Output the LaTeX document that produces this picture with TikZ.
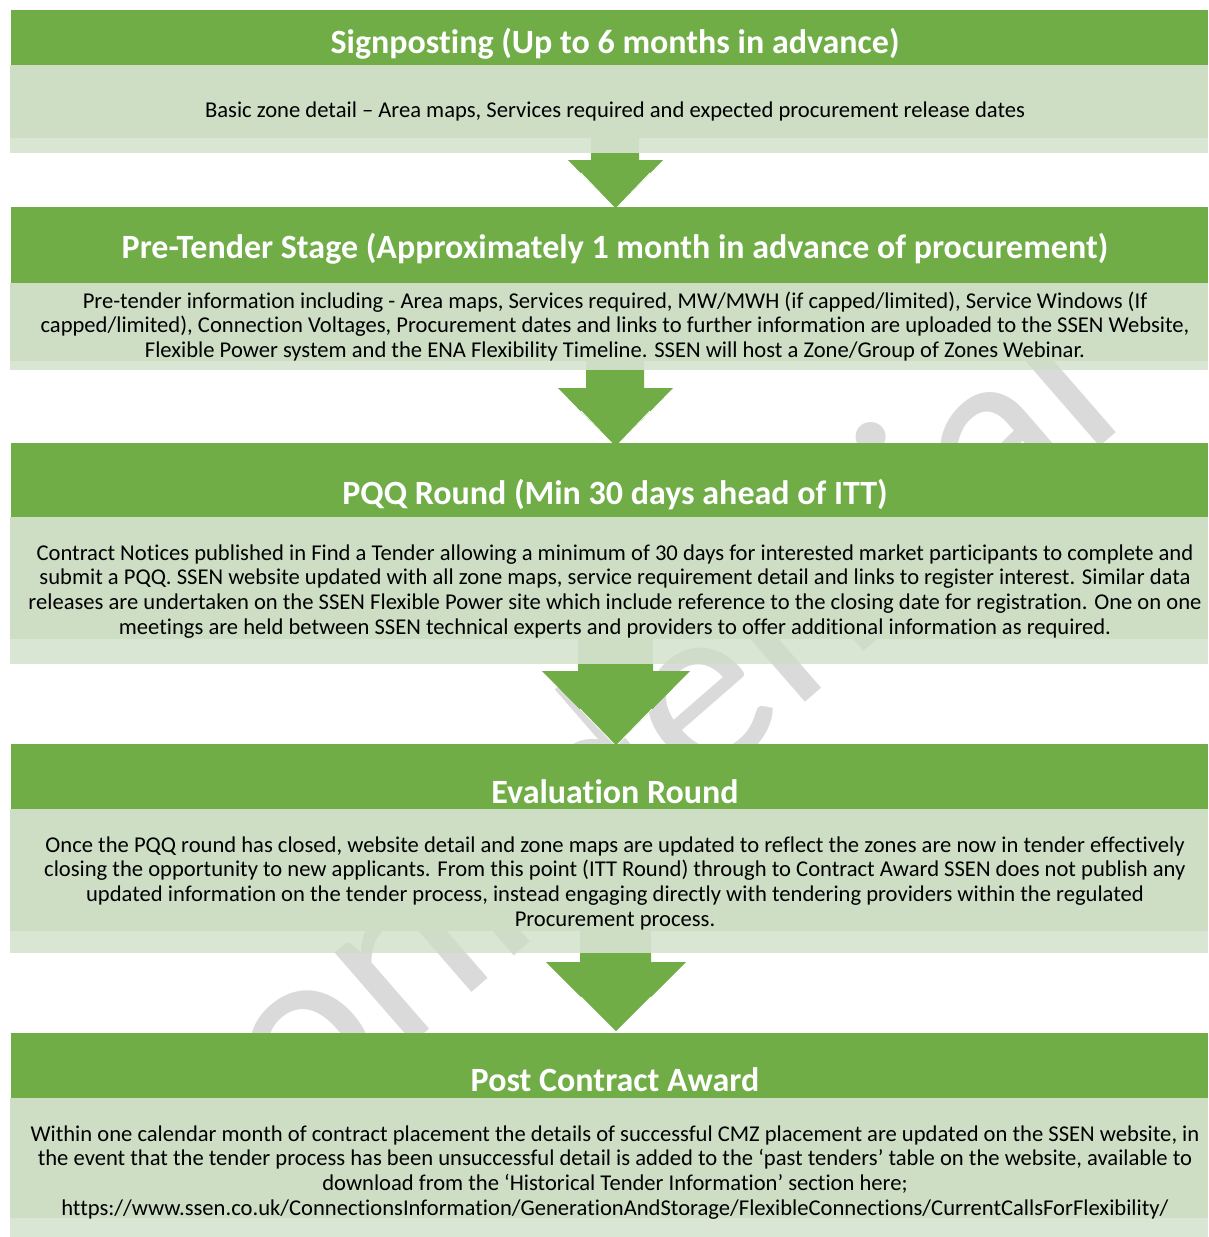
\documentclass[tikz,border=0pt]{standalone}
\usepackage{fontspec}
\setmainfont{Carlito}[Ligatures={NoCommon}]
\definecolor{hdr}{RGB}{112,173,71}
\definecolor{bodyc}{RGB}{205,222,197}
\definecolor{wmgray}{RGB}{218,218,218}
\begin{document}
\begin{tikzpicture}[x=1pt,y=-1pt,
  hdrfill/.style={fill=hdr},
  bodyfill/.style={fill=bodyc},
  stripfill/.style={fill=bodyc,fill opacity=0.75},
  arrowfill/.style={fill=hdr},
  hdrtext/.style={inner sep=0pt,anchor=base,text=white,font=\fontsize{34}{39}\selectfont\bfseries},
  bodytext/.style={inner sep=0pt,anchor=base,text=black,font=\fontsize{22.6}{24.8}\selectfont},
  wmtext/.style={inner sep=0pt,text=wmgray,font=\fontsize{250}{290}\selectfont}
]
\useasboundingbox (0,0) rectangle (1208,1237);
\clip (0,0) rectangle (1208,1237);
\fill[white] (0,0) rectangle (1208,1237);

% watermark
\node[wmtext,rotate=41,anchor=base east] (wm) at (1130,420) {Confidential};

% ---- Stage 1
\fill[hdrfill] (11,10) rectangle (1208,65);
\fill[bodyfill] (10,65) rectangle (1208,138);
\fill[stripfill] (10,138) rectangle (1208,153);
\node[hdrtext] (h1) at (615,53) {Signposting (Up to 6 months in advance)};
\node[bodytext] (b1) at (615,117) {\begin{tabular}[t]{@{}c@{}}Basic zone detail – Area maps, Services required and expected procurement release dates\end{tabular}};
% arrow 1
\fill[bodyfill] (591,138) rectangle (639,153);
\fill[arrowfill] (591,153) -- (639,153) -- (639,160) -- (663,160) -- (615.5,209) -- (568,160) -- (591,160) -- cycle;
\draw[white,line width=0.8pt] (650,173) -- (615.5,209) -- (581,173);

% ---- Stage 2
\fill[hdrfill] (11,207) rectangle (1208,283);
\fill[bodyfill] (10,283) rectangle (1208,361);
\fill[stripfill] (10,361) rectangle (1208,370);
\node[hdrtext] (h2) at (615,258) {Pre-Tender Stage (Approximately 1 month in advance of procurement)};
\node[bodytext] (b2) at (615,308) {\begin{tabular}[t]{@{}c@{}}Pre-tender information including - Area maps, Services required, MW/MWH (if capped/limited), Service Windows (If\\
capped/limited), Connection Voltages, Procurement dates and links to further information are uploaded to the SSEN Website,\\
Flexible Power system and the ENA Flexibility Timeline. SSEN will host a Zone/Group of Zones Webinar.\end{tabular}};
% arrow 2
\fill[bodyfill] (586,361) rectangle (644,370);
\fill[arrowfill] (586,370) -- (644,370) -- (644,388) -- (673,388) -- (615.5,447) -- (558,388) -- (586,388) -- cycle;
\draw[white,line width=0.8pt] (650,411) -- (615.5,447) -- (581,411);

% ---- Stage 3
\fill[hdrfill] (11,443) rectangle (1208,517);
\fill[bodyfill] (10,517) rectangle (1208,639);
\fill[stripfill] (10,639) rectangle (1208,664);
\node[hdrtext] (h3) at (615,504) {PQQ Round (Min 30 days ahead of ITT)};
\node[bodytext] (b3) at (615,560) {\begin{tabular}[t]{@{}c@{}}Contract Notices published in Find a Tender allowing a minimum of 30 days for interested market participants to complete and\\
submit a PQQ. SSEN website updated with all zone maps, service requirement detail and links to register interest. Similar data\\
releases are undertaken on the SSEN Flexible Power site which include reference to the closing date for registration. One on one\\
meetings are held between SSEN technical experts and providers to offer additional information as required.\end{tabular}};
% arrow 3
\fill[bodyfill] (578,639) rectangle (653,664);
\fill[arrowfill] (578,664) -- (653,664) -- (653,671) -- (690,671) -- (616,746) -- (542,671) -- (578,671) -- cycle;
\draw[white,line width=0.8pt] (652,709) -- (616,746) -- (580,709);

% ---- Stage 4
\fill[hdrfill] (11,744) rectangle (1208,809);
\fill[bodyfill] (10,809) rectangle (1208,931);
\fill[stripfill] (10,931) rectangle (1208,953);
\node[hdrtext] (h4) at (615,803) {Evaluation Round};
\node[bodytext] (b4) at (615,852) {\begin{tabular}[t]{@{}c@{}}Once the PQQ round has closed, website detail and zone maps are updated to reflect the zones are now in tender effectively\\
closing the opportunity to new applicants. From this point (ITT Round) through to Contract Award SSEN does not publish any\\
updated information on the tender process, instead engaging directly with tendering providers within the regulated\\
Procurement process.\end{tabular}};
% arrow 4
\fill[bodyfill] (580,931) rectangle (651,953);
\fill[arrowfill] (580,953) -- (651,953) -- (651,962) -- (686,962) -- (616,1032) -- (546,962) -- (580,962) -- cycle;
\draw[white,line width=0.8pt] (651,997) -- (616,1032) -- (581,997);

% ---- Stage 5
\fill[hdrfill] (11,1033) rectangle (1208,1098);
\fill[bodyfill] (10,1098) rectangle (1208,1218);
\fill[stripfill] (10,1218) rectangle (1208,1237);
\node[hdrtext] (h5) at (615,1091) {Post Contract Award};
\node[bodytext] (b5) at (615,1141) {\begin{tabular}[t]{@{}c@{}}Within one calendar month of contract placement the details of successful CMZ placement are updated on the SSEN website, in\\
the event that the tender process has been unsuccessful detail is added to the ‘past tenders’ table on the website, available to\\
download from the ‘Historical Tender Information’ section here;\\
https://www.ssen.co.uk/ConnectionsInformation/GenerationAndStorage/FlexibleConnections/CurrentCallsForFlexibility/\end{tabular}};
\end{tikzpicture}
\end{document}
